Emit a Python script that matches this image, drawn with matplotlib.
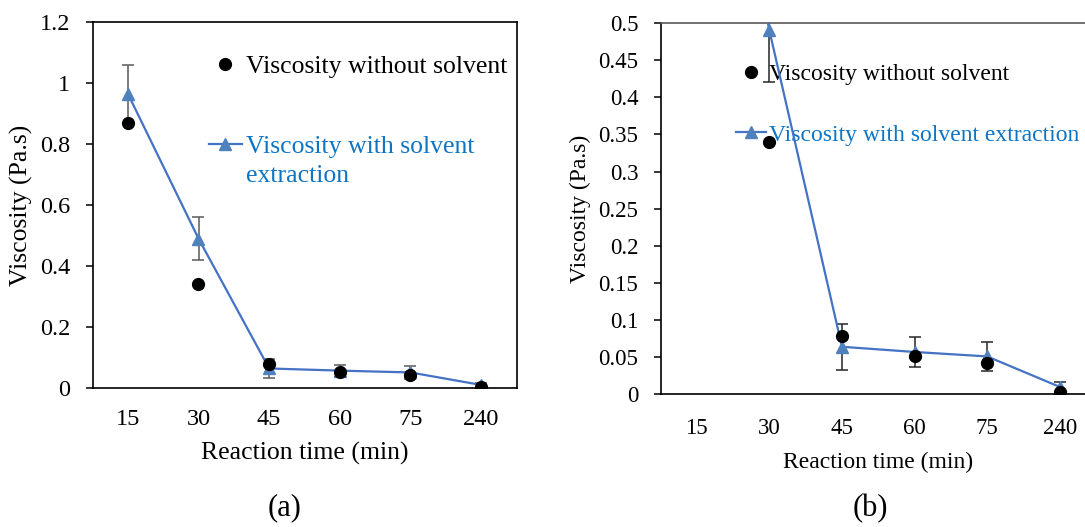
import numpy as np
import matplotlib
matplotlib.use("Agg")
import matplotlib.pyplot as plt

plt.rcParams["font.family"] = ["Liberation Serif", "DejaVu Serif"]

# reaction time categories (min)
times = ["15", "30", "45", "60", "75", "240"]
# viscosity (Pa.s)
visc_no_solvent = [0.87, 0.34, 0.078, 0.051, 0.042, 0.003]
visc_solvent = [0.965, 0.49, 0.064, 0.057, 0.051, 0.010]
visc_solvent_err = [0.095, 0.07, 0.031, 0.02, 0.02, 0.007]

label_dry = "Viscosity without solvent"
label_ext = "Viscosity with solvent extraction"

LINE_BLUE = "#4472C4"
MARK_BLUE = "#4F81BD"
TEXT_BLUE = "#0E74C4"

W, H = 1085, 527
fig = plt.figure(figsize=(W / 100, H / 100), dpi=100)


def px_axes(left, right, top, bottom):
    return fig.add_axes([left / W, 1 - bottom / H, (right - left) / W, (bottom - top) / H])


def draw_panel(ax, ymax, ystep, fs_text, fs_tick, err_color, xpad, leg_labels, leg_xy, leg_space):
    x = np.arange(len(times))
    ax.errorbar(x, visc_solvent, yerr=visc_solvent_err, fmt="none",
                ecolor=err_color, elinewidth=1.1, capsize=4.5, capthick=1.1, zorder=2)
    line, = ax.plot(x, visc_solvent, color=LINE_BLUE, lw=1.6, marker="^", ms=8,
                    mfc=MARK_BLUE, mec=MARK_BLUE, zorder=3)
    dots, = ax.plot(x, visc_no_solvent, ls="none", marker="o", ms=8.5, color="black", zorder=4)

    ax.set_xlim(-0.5, len(times) - 0.5)
    ax.set_ylim(0, ymax)
    ax.set_xticks(x)
    ax.set_xticklabels(times)
    ticks = np.round(np.arange(0, ymax + ystep / 2, ystep), 3)
    ax.set_yticks(ticks)
    ax.set_yticklabels([f"{t:g}" for t in ticks])
    ax.tick_params(axis="x", length=0, pad=xpad, labelsize=fs_tick)
    ax.tick_params(axis="y", length=5, width=1.1, direction="out", pad=11, labelsize=fs_tick)
    for s in ax.spines.values():
        s.set_linewidth(1.2)
    ax.set_xlabel("Reaction time (min)", fontsize=fs_text, labelpad=9)
    ax.set_ylabel("Viscosity (Pa.s)", fontsize=fs_text, labelpad=5)

    leg = ax.legend([dots, line], leg_labels, loc="upper left",
                    bbox_to_anchor=leg_xy, frameon=False, fontsize=fs_text,
                    handlelength=1.27, handletextpad=0.15, labelspacing=leg_space,
                    borderpad=0, borderaxespad=0, numpoints=1,
                    labelcolor=["black", TEXT_BLUE])
    leg.set_zorder(1)
    return leg


ax_a = px_axes(92.5, 516.5, 22, 388)
leg_a = draw_panel(ax_a, 1.2, 0.2, 18.5, 17.5, "#5a5a5a", 15,
                   [label_dry, "Viscosity with solvent"], (0.275, 0.909), 2.22)
# second line of the wrapped legend label
ax_a.annotate("extraction", xy=(0, 0), xycoords=leg_a.get_texts()[1],
              xytext=(0, -7), textcoords="offset pixels", ha="left", va="top",
              fontsize=18.5, color=TEXT_BLUE)

ax_b = px_axes(660.5, 1096, 23, 394.3)
draw_panel(ax_b, 0.5, 0.05, 17, 16.5, "#262626", 17,
           [label_dry, label_ext], (0.173, 0.8905), 1.65)
ax_b.spines["top"].set_color("#595959")

fig.text(285 / W, 1 - 508 / H, "(a)", ha="center", va="center", fontsize=22)
fig.text(870 / W, 1 - 509 / H, "(b)", ha="center", va="center", fontsize=22)

fig.savefig("out.png", dpi=100)
